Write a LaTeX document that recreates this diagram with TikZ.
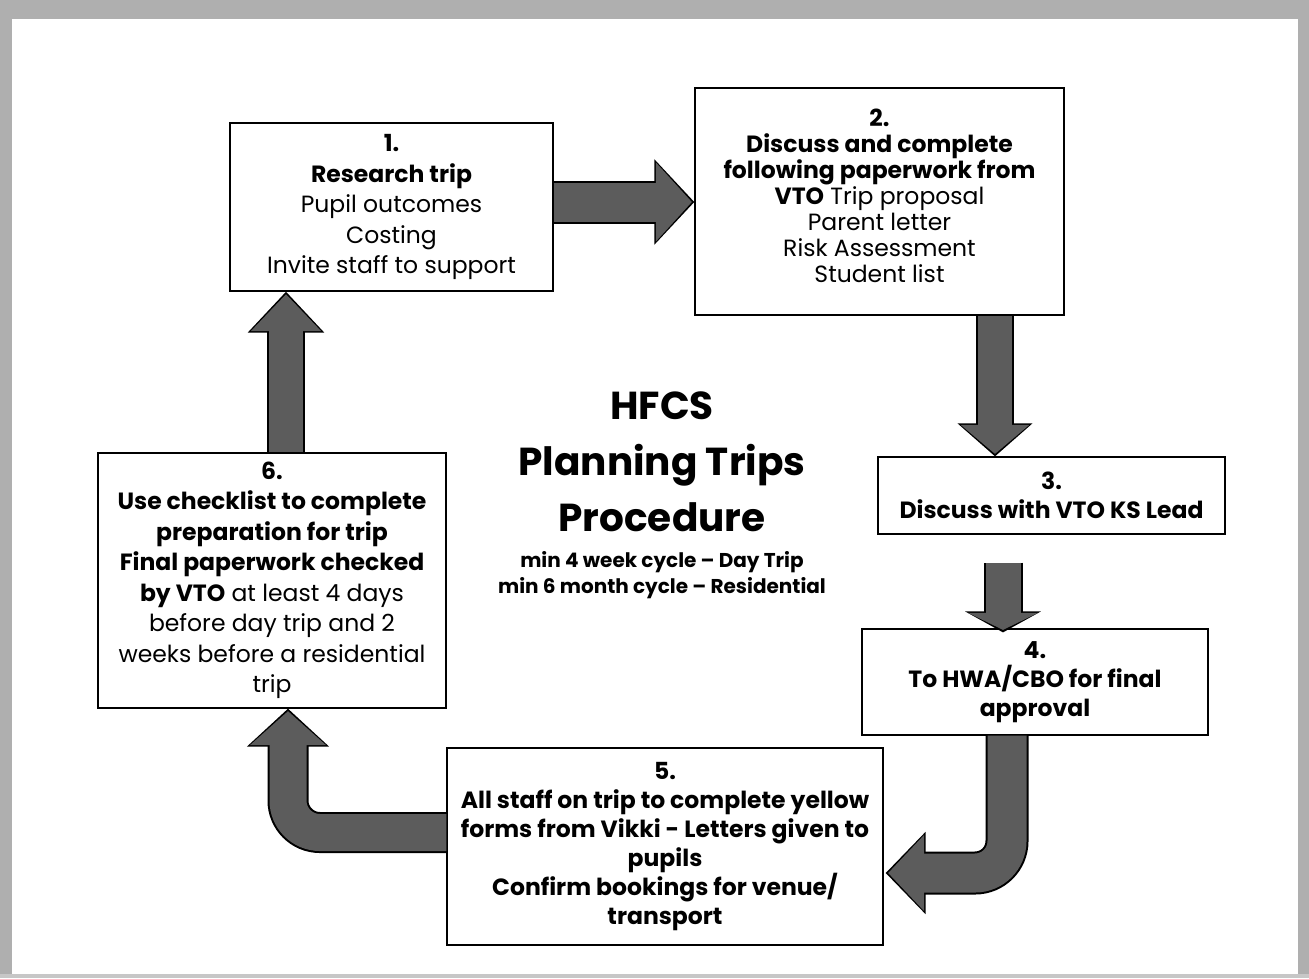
\documentclass[tikz,border=0pt]{standalone}
\usepackage{fontspec}
\setmainfont{Poppins}
\usetikzlibrary{arrows.meta,calc}
\definecolor{arrowfill}{RGB}{92,92,92}
\definecolor{scanframe}{RGB}{175,175,175}
\newcommand{\blockarr}[7]{%
  % #1 outline width, #2 outline tip width, #3 outline tip length,
  % #4 shaft width, #5 tip width, #6 tip length, #7 path
  \draw[black, line width=#1, -{Triangle[width=#2, length=#3]}] #7;
  \draw[arrowfill, line width=#4, shorten >=2.5pt, -{Triangle[width=#5, length=#6]}] #7;
}
\tikzset{
  stepbox/.style={draw=black, line width=1.2pt, fill=white, align=center,
    inner sep=0pt, font=\fontsize{23.5}{29}\selectfont},
  widelines/.style={font=\fontsize{23.5}{30.5}\selectfont},
  boxtext/.style={align=center, inner sep=0pt, font=\fontsize{23.5}{26}\selectfont},
  titletext/.style={align=center, inner sep=0pt, font=\fontsize{39}{56}\selectfont\bfseries},
  subtext/.style={align=center, inner sep=0pt, font=\fontsize{20}{26}\selectfont\bfseries},
  bent/.style={rounded corners=32pt}
}
\begin{document}
\begin{tikzpicture}[x=1pt, y=-1pt]
\useasboundingbox (0,0) rectangle (1309,978);
% scanned page frame
\fill[white] (0,0) rectangle (1309,978);
\fill[scanframe] (0,0) rectangle (1309,19);
\fill[scanframe] (0,0) rectangle (12,978);
\fill[scanframe] (1298,0) rectangle (1309,978);
\fill[scanframe!70] (0,974) rectangle (1309,978);

% boxes
\node[stepbox, widelines, minimum width=323pt, minimum height=168pt] (b1) at (391.5,207)
  {\textbf{1.}\\ \textbf{Research trip}\\ Pupil outcomes\\ Costing\\ Invite staff to support};
\node[stepbox, minimum width=369pt, minimum height=227pt] (b2) at (879.5,201.5) {};
\node[boxtext] (t2) at ($(b2.center)+(0,-6)$)
  {\textbf{2.}\\ \textbf{Discuss and complete}\\ \textbf{following paperwork from}\\ \textbf{VTO} Trip proposal\\ Parent letter\\ Risk Assessment\\ Student list};
\node[stepbox, minimum width=347pt, minimum height=77pt] (b3) at (1051.5,495.5)
  {\textbf{3.}\\ \textbf{Discuss with VTO KS Lead}};
\node[stepbox, minimum width=346pt, minimum height=106pt] (b4) at (1035,682)
  {\textbf{4.}\\ \textbf{To HWA/CBO for final}\\ \textbf{approval}};
\node[stepbox, minimum width=436pt, minimum height=197pt] (b5) at (665,846.5)
  {\textbf{5.}\\ \textbf{All staff on trip to complete yellow}\\ \textbf{forms from Vikki - Letters given to}\\ \textbf{pupils}\\ \textbf{Confirm bookings for venue/}\\ \textbf{transport}};
\node[stepbox, widelines, minimum width=348pt, minimum height=255pt] (b6) at (272,580.5)
  {\textbf{6.}\\ \textbf{Use checklist to complete}\\ \textbf{preparation for trip}\\ \textbf{Final paperwork checked}\\ \textbf{by VTO} at least 4 days\\ before day trip and 2\\ weeks before a residential\\ trip};

% centre title
\node[titletext] (title) at (662,462) {HFCS\\ Planning Trips\\ Procedure};
\node[subtext] (sub) at (662,575) {min 4 week cycle -- Day Trip\\ min 6 month cycle -- Residential};

% block arrows
\blockarr{43pt}{83pt}{40pt}{39pt}{77pt}{36pt}{($(b1.east)+(0,-5)$) -- ($(b2.west)+(0,0.5)$)}
\blockarr{38pt}{73pt}{33pt}{34pt}{67pt}{29pt}{($(b2.south)+(115.5,0)$) -- ($(b3.north)+(-56.5,0)$)}
\blockarr{39pt}{75pt}{21pt}{35pt}{69pt}{17pt}{($(b3.south)+(-48.5,28)$) -- ($(b4.north)+(-32,4)$)}
\blockarr{43pt}{80pt}{40pt}{39pt}{74pt}{36pt}{[bent] ($(b4.south)+(-28,0)$) |- ($(b5.east)+(2,26.5)$)}
\blockarr{41pt}{80pt}{38pt}{37pt}{74pt}{34pt}{[bent] ($(b5.west)+(0,-14)$) -| ($(b6.south)+(16,0)$)}
\blockarr{38pt}{74pt}{41pt}{34pt}{68pt}{37pt}{($(b6.north)+(14,0)$) -- ($(b1.south)+(-105.5,0)$)}
\end{tikzpicture}
\end{document}
